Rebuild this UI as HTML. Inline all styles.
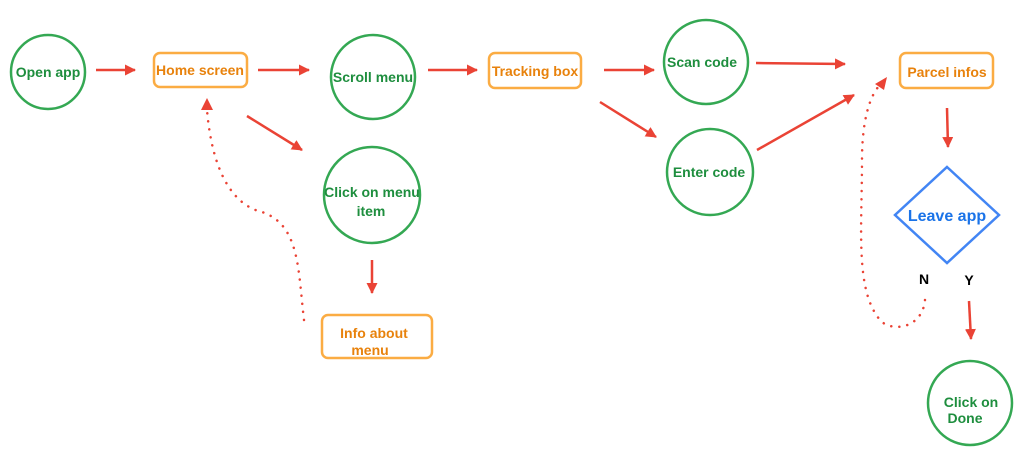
<!DOCTYPE html>
<html><head><meta charset="utf-8"><style>
html,body{margin:0;padding:0;background:#fff;}
svg{display:block;}
text{font-family:"Liberation Sans",sans-serif;font-weight:bold;font-size:14px;}
.g{fill:#1e8e3e;}
.o{fill:#e8820c;}
</style></head><body>
<svg width="1024" height="462" viewBox="0 0 1024 462" xmlns="http://www.w3.org/2000/svg">
<defs>
<marker id="a" markerWidth="11" markerHeight="11" refX="10" refY="5.5" orient="auto" markerUnits="userSpaceOnUse">
<path d="M0,0 L11,5.5 L0,11 z" fill="#ea4335"/>
</marker>
</defs>
<g fill="none" stroke="#34a853" stroke-width="2.5">
<circle cx="48" cy="72" r="37"/>
<circle cx="373" cy="77" r="42"/>
<circle cx="372" cy="195" r="48"/>
<circle cx="706" cy="62" r="42"/>
<circle cx="710" cy="172" r="43"/>
<circle cx="970" cy="403" r="42"/>
</g>
<g fill="none" stroke="#fbac43" stroke-width="2.5">
<rect x="154" y="53" width="93" height="34" rx="6"/>
<rect x="489" y="53" width="92" height="35" rx="6"/>
<rect x="900" y="53" width="93" height="35" rx="6"/>
<rect x="322" y="315" width="110" height="43" rx="6"/>
</g>
<polygon points="947,167 999,215 947,263 895,215" fill="none" stroke="#4285f4" stroke-width="2.5"/>
<g stroke="#ea4335" stroke-width="2.5" fill="none" marker-end="url(#a)">
<line x1="96" y1="70" x2="135" y2="70"/>
<line x1="258" y1="70" x2="309" y2="70"/>
<line x1="247" y1="116" x2="302" y2="150"/>
<line x1="428" y1="70" x2="477" y2="70"/>
<line x1="604" y1="70" x2="654" y2="70"/>
<line x1="600" y1="102" x2="656" y2="137"/>
<line x1="756" y1="63" x2="845" y2="64"/>
<line x1="757" y1="150" x2="854" y2="95"/>
<line x1="947" y1="108" x2="948" y2="147"/>
<line x1="969" y1="301" x2="971" y2="339"/>
<line x1="372" y1="260" x2="372" y2="293"/>
</g>
<g stroke="#ea4335" stroke-width="2.5" fill="none" stroke-dasharray="0.1 8" stroke-linecap="round">
<path d="M304,320 C298,270 300,225 262,212 C232,205 212,170 207,110"/>
<path d="M925,300 C922,330 890,332 880,320 C855,290 862,230 862,160 C862,120 870,95 880,85"/>
</g>
<path d="M201,110 L207,98 L213,110 z" fill="#ea4335"/>
<path d="M875,84 L887,77 L884,90 z" fill="#ea4335"/>
<text class="g" x="48" y="77" text-anchor="middle">Open app</text>
<text class="o" x="200" y="75" text-anchor="middle">Home screen</text>
<text class="g" x="373" y="82" text-anchor="middle">Scroll menu</text>
<text class="g" x="372" y="200" text-anchor="middle" dy="-3">Click on menu</text>
<text class="g" x="371" y="216" text-anchor="middle">item</text>
<text class="o" x="374" y="338" text-anchor="middle">Info about</text>
<text class="o" x="370" y="355" text-anchor="middle">menu</text>
<text class="o" x="535" y="76" text-anchor="middle">Tracking box</text>
<text class="g" x="702" y="67" text-anchor="middle">Scan code</text>
<text class="g" x="709" y="177" text-anchor="middle">Enter code</text>
<text class="o" x="947" y="77" text-anchor="middle">Parcel infos</text>
<text x="947" y="221" text-anchor="middle" style="fill:#1a73e8;font-size:16px">Leave app</text>
<text x="924" y="284" text-anchor="middle" style="fill:#000">N</text>
<text x="969" y="285" text-anchor="middle" style="fill:#000">Y</text>
<text class="g" x="971" y="407" text-anchor="middle">Click on</text>
<text class="g" x="965" y="423" text-anchor="middle">Done</text>
</svg>
</body></html>
